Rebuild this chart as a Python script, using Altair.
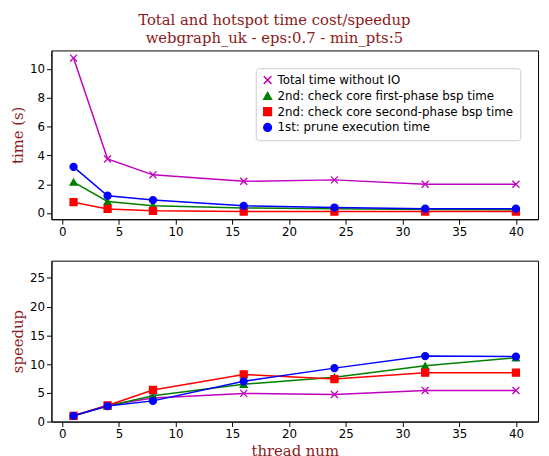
import altair as alt
import pandas as pd

threads = [1, 4, 8, 16, 24, 32, 40]
series = [
    "Total time without IO",
    "2nd: check core first-phase bsp time",
    "2nd: check core second-phase bsp time",
    "1st: prune execution time",
]
time_total = [10.75, 3.75, 2.65, 2.2, 2.3, 2.0, 2.0]
time_first = [2.15, 0.8, 0.5, 0.35, 0.3, 0.25, 0.22]
time_second = [0.75, 0.28, 0.15, 0.1, 0.1, 0.1, 0.1]
time_prune = [3.2, 1.2, 0.9, 0.5, 0.38, 0.3, 0.3]
speed_total = [1, 2.85, 4.1, 4.9, 4.7, 5.4, 5.4]
speed_first = [1, 2.7, 4.5, 6.5, 7.7, 9.7, 11.1]
speed_second = [1, 2.8, 5.5, 8.2, 7.4, 8.5, 8.5]
speed_prune = [1, 2.7, 3.6, 7.0, 9.3, 11.4, 11.3]

colors = ["#bf00bf", "#008000", "#ff0000", "#0000ff"]
shapes = ["M-1,-1L1,1M1,-1L-1,1", "triangle-up", "square", "circle"]
dark_red = "#8b1a1a"


def long_df(cols):
    rows = []
    for name, vals in zip(series, cols):
        for t, v in zip(threads, vals):
            rows.append({"thread": t, "value": v, "series": name})
    return pd.DataFrame(rows)


df_time = long_df([time_total, time_first, time_second, time_prune])
df_speed = long_df([speed_total, speed_first, speed_second, speed_prune])

col_scale = alt.Scale(domain=series, range=colors)
shape_scale = alt.Scale(domain=series, range=shapes)


def panel(df, ydomain, ytitle, xtitle, legend, height):
    x = alt.X("thread:Q", scale=alt.Scale(domain=[-0.95, 41.95], nice=False),
              axis=alt.Axis(values=list(range(0, 41, 5)), title=xtitle, grid=False))
    y = alt.Y("value:Q", scale=alt.Scale(domain=ydomain, nice=False),
              axis=alt.Axis(title=ytitle, grid=False, tickCount=6))
    if legend:
        leg = alt.Legend(title=None, orient="top-right", strokeColor="#cccccc",
                         fillColor="white", padding=6, labelFontSize=12,
                         symbolSize=60, labelLimit=300, cornerRadius=3,
                         symbolStrokeWidth=1.5)
    else:
        leg = None
    lines = alt.Chart(df).mark_line(strokeWidth=1.5).encode(
        x=x, y=y, color=alt.Color("series:N", scale=col_scale, legend=leg, sort=series),
        detail="series:N")
    pts = alt.Chart(df).mark_point(filled=True, size=50, strokeWidth=1.3, opacity=1).encode(
        x=x, y=y,
        color=alt.Color("series:N", scale=col_scale, legend=leg, sort=series),
        stroke=alt.Stroke("series:N", scale=col_scale, legend=leg, sort=series),
        shape=alt.Shape("series:N", scale=shape_scale, legend=leg, sort=series))
    return alt.layer(lines, pts).properties(width=493, height=height)


top = panel(df_time, [-0.43, 11.28], "time (s)", None, True, 171)
bottom = panel(df_speed, [0, 28], "speedup", "thread num", False, 163)

chart = alt.vconcat(top, bottom, spacing=22).resolve_scale(
    color="independent", shape="independent", stroke="independent"
).properties(
    title=alt.Title(["Total and hotspot time cost/speedup",
                     "webgraph_uk - eps:0.7 - min_pts:5"],
                    font="DejaVu Serif", fontSize=15, fontWeight="normal",
                    color=dark_red, anchor="middle", offset=4, lineHeight=18)
).configure_axis(
    labelFont="DejaVu Sans", labelFontSize=12, labelColor="black",
    titleFont="DejaVu Serif", titleFontSize=15, titleFontWeight="normal",
    titleColor=dark_red, domainColor="black", tickColor="black"
).configure_view(stroke="black", strokeWidth=1).configure_legend(
    labelFont="DejaVu Sans"
).properties(padding={"left": 2, "top": 2, "right": 2, "bottom": 2})

chart.save("out.html", embed_options={"renderer": "svg", "actions": False})
